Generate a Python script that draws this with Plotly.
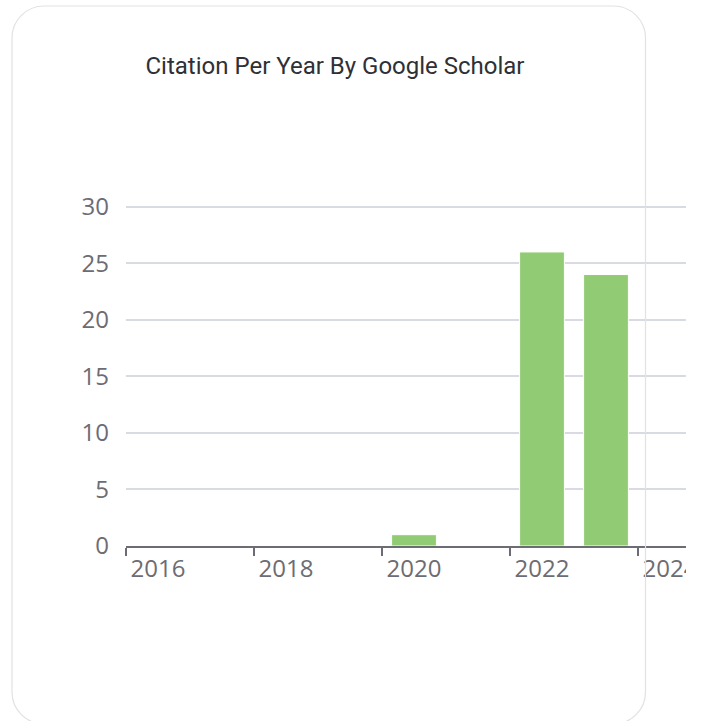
import plotly.graph_objects as go

years = ["2016", "2017", "2018", "2019", "2020", "2021", "2022", "2023", "2024"]
citations = [0, 0, 0, 0, 1, 0, 26, 24, 0]
y_ticks = [0, 5, 10, 15, 20, 25, 30]
title_text = "Citation Per Year By Google Scholar"

W, H = 686, 721
Y_TOP = 30.15
ML, MR, MB = 126, 0, 175
MT = round(H - MB - (546 - 206.7) * Y_TOP / 30)
PW = W - ML - MR
PH = H - MT - MB


def px(x):
    return (x - ML) / PW


def py(y):
    return (H - MB - y) / PH


def rounded_rect(x0, y0, x1, y1, r):
    k = 0.5523 * r
    pts = []
    pts.append(f"M {px(x0 + r)},{py(y0)}")
    pts.append(f"L {px(x1 - r)},{py(y0)}")
    pts.append(f"C {px(x1 - r + k)},{py(y0)} {px(x1)},{py(y0 + r - k)} {px(x1)},{py(y0 + r)}")
    pts.append(f"L {px(x1)},{py(y1 - r)}")
    pts.append(f"C {px(x1)},{py(y1 - r + k)} {px(x1 - r + k)},{py(y1)} {px(x1 - r)},{py(y1)}")
    pts.append(f"L {px(x0 + r)},{py(y1)}")
    pts.append(f"C {px(x0 + r - k)},{py(y1)} {px(x0)},{py(y1 - r + k)} {px(x0)},{py(y1 - r)}")
    pts.append(f"L {px(x0)},{py(y0 + r)}")
    pts.append(f"C {px(x0)},{py(y0 + r - k)} {px(x0 + r - k)},{py(y0)} {px(x0 + r)},{py(y0)}")
    pts.append("Z")
    return " ".join(pts)


fig = go.Figure()
fig.add_trace(go.Bar(
    x=years, y=citations,
    marker=dict(color="#91cb74", line=dict(color="#ffffff", width=1)),
    hoverinfo="x+y",
))

label_color = "#6c6c75"
fig.update_layout(
    width=W, height=H,
    margin=dict(l=ML, r=MR, t=MT, b=MB, autoexpand=False),
    paper_bgcolor="white", plot_bgcolor="white",
    bargap=0.3,
    showlegend=False,
    title=dict(
        text=title_text,
        x=px(335), xanchor="center", xref="paper",
        y=1 - 66 / H, yanchor="middle", yref="container",
        font=dict(family="Roboto, sans-serif", size=24, color="#2f3035"),
        automargin=False,
    ),
    xaxis=dict(
        type="category",
        range=[-0.5, 8.25],
        tickmode="linear", tick0=0, dtick=2,
        tickson="boundaries",
        ticks="outside", ticklen=8, tickwidth=2, tickcolor=label_color,
        showline=True, linecolor=label_color, linewidth=2,
        showgrid=False,
        automargin=False,
        tickfont=dict(family="Open Sans, sans-serif", size=24, color=label_color),
        fixedrange=True,
    ),
    yaxis=dict(
        range=[0, Y_TOP],
        tickvals=y_ticks,
        ticks="",
        ticklabelstandoff=16,
        showgrid=True, gridcolor="#d9dbe3", gridwidth=2,
        zeroline=False,
        showline=False,
        automargin=False,
        tickfont=dict(family="Open Sans, sans-serif", size=24, color=label_color),
        fixedrange=True,
    ),
    shapes=[dict(
        type="path", xref="paper", yref="paper",
        path=rounded_rect(12, 6, 645.5, 724, 32),
        line=dict(color="#e2e2e4", width=1.2),
        fillcolor="rgba(0,0,0,0)",
        layer="above",
    )],
)

fig.write_html(
    "out.html",
    config={"displayModeBar": False},
    post_script="document.body.style.margin='0';document.body.style.overflow='hidden';",
)
